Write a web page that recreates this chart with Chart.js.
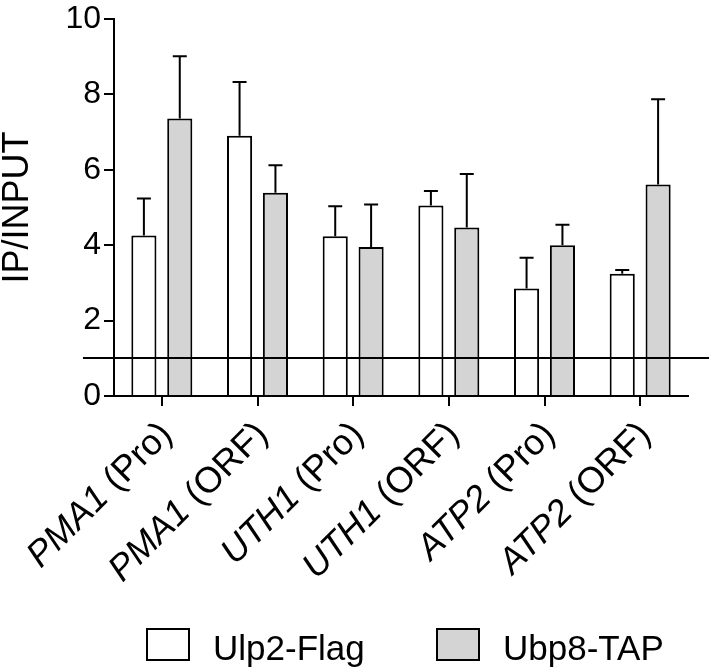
<!DOCTYPE html>
<html>
<head>
<meta charset="utf-8">
<script src="https://cdn.jsdelivr.net/npm/chart.js@4"></script>
<style>
  html, body { margin: 0; padding: 0; background: #fff; }
  #wrap { position: relative; width: 709px; height: 667px; }
</style>
</head>
<body>
<div id="wrap"><canvas id="chart"></canvas></div>
<script>
// data
const genes = ['PMA1', 'PMA1', 'UTH1', 'UTH1', 'ATP2', 'ATP2'];
const regions = ['(Pro)', '(ORF)', '(Pro)', '(ORF)', '(Pro)', '(ORF)'];
const ulp2 = [4.26, 6.90, 4.24, 5.05, 2.85, 3.24];
const ulp2Err = [0.98, 1.43, 0.79, 0.39, 0.82, 0.10];
const ubp8 = [7.36, 5.39, 3.95, 4.47, 4.00, 5.61];
const ubp8Err = [1.65, 0.73, 1.13, 1.42, 0.54, 2.26];
const yTicks = [0, 2, 4, 6, 8, 10];
const baseline = 1;

const FONT = '"Liberation Sans", Arial, Helvetica, sans-serif';

// upward error bars from the bar tops
const errorBars = {
    id: 'errorBars',
    afterDatasetsDraw(chart) {
        const ctx = chart.ctx;
        const y = chart.scales.y;
        ctx.save();
        ctx.strokeStyle = '#000';
        ctx.lineWidth = 2;
        chart.data.datasets.forEach((ds, i) => {
            const meta = chart.getDatasetMeta(i);
            meta.data.forEach((bar, j) => {
                const top = y.getPixelForValue(ds.data[j] + ds.errors[j]);
                ctx.beginPath();
                ctx.moveTo(bar.x, bar.y);
                ctx.lineTo(bar.x, top);
                ctx.moveTo(bar.x - 7, top);
                ctx.lineTo(bar.x + 7, top);
                ctx.stroke();
            });
        });
        ctx.restore();
    }
};

// reference line, x labels (italic gene + plain region) and legend
const extras = {
    id: 'extras',
    afterDraw(chart) {
        const ctx = chart.ctx;
        const x = chart.scales.x;
        const y = chart.scales.y;
        const area = chart.chartArea;

        ctx.save();
        ctx.strokeStyle = '#000';
        ctx.lineWidth = 2;
        const ly = Math.round(y.getPixelForValue(baseline));
        ctx.beginPath();
        ctx.moveTo(83, ly);
        ctx.lineTo(chart.width, ly);
        ctx.stroke();

        ctx.fillStyle = '#000';
        ctx.textBaseline = 'alphabetic';
        ctx.textAlign = 'left';
        const italic = 'italic 36px ' + FONT;
        const plain = '36px ' + FONT;
        genes.forEach((g, i) => {
            const px = x.getPixelForValue(i);
            ctx.save();
            ctx.translate(px + 12, area.bottom + 40);
            ctx.rotate(-Math.PI / 4);
            ctx.font = italic;
            const w1 = ctx.measureText(g).width;
            ctx.font = plain;
            const rest = ' ' + regions[i];
            const w2 = ctx.measureText(rest).width;
            ctx.font = italic;
            ctx.fillText(g, -(w1 + w2), 0);
            ctx.font = plain;
            ctx.fillText(rest, -w2, 0);
            ctx.restore();
        });

        // legend
        ctx.font = '35px ' + FONT;
        const items = chart.data.datasets;
        const lx = [147, 437];
        items.forEach((ds, i) => {
            ctx.fillStyle = ds.backgroundColor;
            ctx.fillRect(lx[i], 629, 42, 31);
            ctx.lineWidth = 2;
            ctx.strokeStyle = '#000';
            ctx.strokeRect(lx[i], 629, 42, 31);
            ctx.fillStyle = '#000';
            ctx.fillText(ds.label, lx[i] + 66, 660);
        });
        ctx.restore();
    }
};

new Chart(document.getElementById('chart'), {
    type: 'bar',
    data: {
        labels: genes.map((g, i) => g + ' ' + regions[i]),
        datasets: [
            {
                label: 'Ulp2-Flag',
                data: ulp2,
                errors: ulp2Err,
                backgroundColor: '#ffffff',
                borderColor: '#000',
                borderWidth: 2
            },
            {
                label: 'Ubp8-TAP',
                data: ubp8,
                errors: ubp8Err,
                backgroundColor: '#d4d4d4',
                borderColor: '#000',
                borderWidth: 2
            }
        ]
    },
    options: {
        responsive: true,
        maintainAspectRatio: false,
        animation: false,
        events: [],
        categoryPercentage: 0.75,
        barPercentage: 0.7,
        layout: { padding: { left: 0, top: 16, right: 21, bottom: 0 } },
        plugins: {
            legend: { display: false },
            tooltip: { enabled: false }
        },
        scales: {
            x: {
                afterFit: (s) => { s.height = 271; },
                grid: {
                    offset: false,
                    drawOnChartArea: false,
                    drawTicks: true,
                    tickLength: 10,
                    color: '#000',
                    lineWidth: 2
                },
                border: { color: '#000', width: 2 },
                ticks: { display: false }
            },
            y: {
                min: 0,
                max: 10,
                afterFit: (s) => { s.width = 114; },
                afterBuildTicks: (s) => { s.ticks = yTicks.map(v => ({ value: v })); },
                grid: {
                    drawOnChartArea: false,
                    drawTicks: true,
                    tickLength: 10,
                    color: '#000',
                    lineWidth: 2
                },
                border: { color: '#000', width: 2 },
                ticks: {
                    color: '#000',
                    padding: 3,
                    font: { family: FONT, size: 32, lineHeight: 1 }
                },
                title: {
                    display: true,
                    text: 'IP/INPUT',
                    color: '#000',
                    padding: 0,
                    font: { family: FONT, size: 36, lineHeight: 1 }
                }
            }
        }
    },
    plugins: [errorBars, extras]
});
</script>
</body>
</html>
